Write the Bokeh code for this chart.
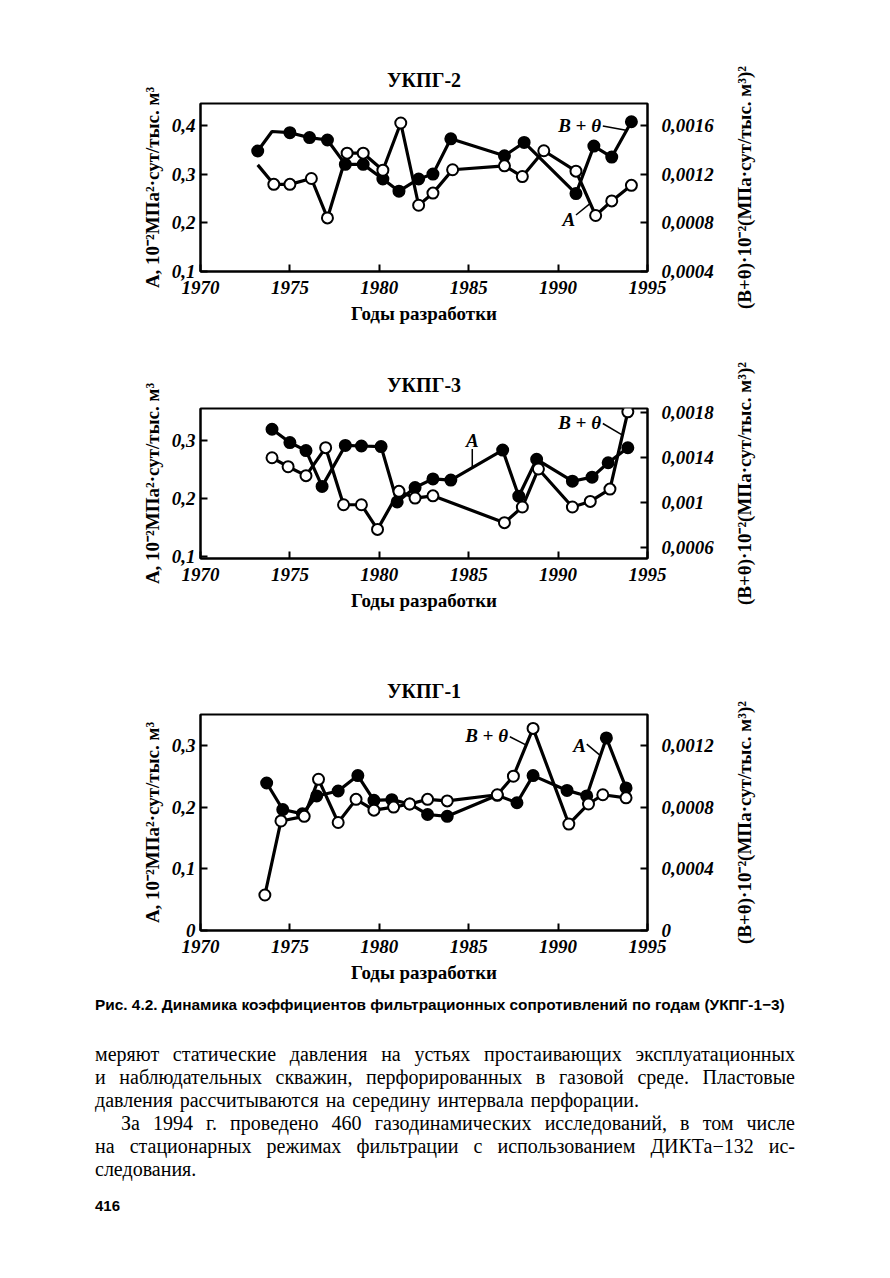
from bokeh.plotting import figure
from bokeh.models import Range1d, LinearAxis, FixedTicker, Div, Label, CustomJSTickFormatter
from bokeh.layouts import column, row
from bokeh.embed import file_html
from bokeh.resources import INLINE

# ---------------- data ----------------
year_ticks = [1970, 1975, 1980, 1985, 1990, 1995]

# УКПГ-2 : filled = B+θ (right axis), open = A (left axis)
k2_bt_years = [1973.2, 1974.0, 1975.0, 1976.1, 1977.1, 1978.1, 1979.1, 1980.2, 1981.1, 1982.2,
               1983.0, 1984.0, 1987.0, 1988.1, 1991.0, 1992.0, 1993.0, 1994.1]
k2_bt = [0.00139, 0.00155, 0.00154, 0.00150, 0.00148, 0.00128, 0.00128, 0.00116, 0.00106, 0.00116,
         0.00120, 0.00149, 0.00135, 0.00146, 0.00104, 0.00143, 0.00134, 0.00163]
k2_bt_marked = [True, False] + [True] * 16
k2_a_years = [1973.2, 1974.1, 1975.0, 1976.2, 1977.1, 1978.2, 1979.1, 1980.2, 1981.2, 1982.2,
              1983.0, 1984.1, 1987.0, 1988.0, 1989.2, 1991.0, 1992.1, 1993.0, 1994.1]
k2_a = [0.319, 0.279, 0.279, 0.291, 0.210, 0.343, 0.343, 0.308, 0.405, 0.236,
        0.261, 0.309, 0.317, 0.295, 0.348, 0.306, 0.215, 0.245, 0.277]
k2_a_marked = [False] + [True] * 18

# УКПГ-3 : filled = A (left axis), open = B+θ (right axis)
k3_a_years = [1974.0, 1975.0, 1975.9, 1976.8, 1978.1, 1979.0, 1980.1, 1981.0, 1982.0, 1983.0,
              1984.0, 1986.9, 1987.8, 1988.8, 1990.8, 1991.9, 1992.8, 1993.9]
k3_a = [0.320, 0.297, 0.283, 0.221, 0.292, 0.291, 0.290, 0.194, 0.219, 0.234,
        0.232, 0.284, 0.204, 0.268, 0.230, 0.237, 0.262, 0.288]
k3_a_marked = [True] * 18
k3_bt_years = [1974.0, 1974.9, 1975.9, 1977.0, 1978.0, 1979.0, 1979.9, 1981.1, 1982.0, 1983.0,
               1987.0, 1988.0, 1988.9, 1990.8, 1991.8, 1992.9, 1993.9]
k3_bt = [0.00140, 0.00132, 0.00124, 0.00149, 0.00098, 0.00098, 0.00076, 0.00110, 0.00104, 0.00106,
         0.00082, 0.00096, 0.00130, 0.00096, 0.00101, 0.00112, 0.00181]
k3_bt_marked = [True] * 17

# УКПГ-1 : filled = A (left axis), open = B+θ (right axis)
k1_a_years = [1973.7, 1974.6, 1975.7, 1976.5, 1977.7, 1978.8, 1979.7, 1980.7, 1981.7, 1982.7,
              1983.8, 1986.6, 1987.7, 1988.6, 1990.5, 1991.6, 1992.7, 1993.8]
k1_a = [0.239, 0.196, 0.189, 0.218, 0.226, 0.251, 0.211, 0.212, 0.205, 0.188,
        0.185, 0.219, 0.207, 0.251, 0.227, 0.218, 0.312, 0.231]
k1_a_marked = [True] * 18
k1_bt_years = [1973.6, 1974.5, 1975.8, 1976.6, 1977.7, 1978.7, 1979.7, 1980.8, 1981.7, 1982.7,
               1983.8, 1986.6, 1987.5, 1988.6, 1990.6, 1991.7, 1992.5, 1993.8]
k1_bt = [0.00023, 0.00071, 0.00074, 0.00098, 0.00070, 0.00085, 0.00078, 0.00080, 0.00082, 0.00085,
         0.00084, 0.00088, 0.00100, 0.00131, 0.00069, 0.00082, 0.00088, 0.00086]
k1_bt_marked = [True] * 18

titles = ["УКПГ-2", "УКПГ-3", "УКПГ-1"]
x_title = "Годы разработки"
left_title = "A, 10⁻²МПа²·сут/тыс. м³"
right_title = "(B+θ)·10⁻²(МПа·сут/тыс. м³)²"
left_ticks = [[0.1, 0.2, 0.3, 0.4], [0.1, 0.2, 0.3], [0.0, 0.1, 0.2, 0.3]]
right_ticks = [[0.0004, 0.0008, 0.0012, 0.0016], [0.0006, 0.001, 0.0014, 0.0018], [0.0, 0.0004, 0.0008, 0.0012]]

caption = "Рис. 4.2. Динамика коэффициентов фильтрационных сопротивлений по годам (УКПГ-1−3)"
para_lines = [
    "меряют статические давления на устьях простаивающих эксплуатационных",
    "и наблюдательных скважин, перфорированных в газовой среде. Пластовые",
    "давления рассчитываются на середину интервала перфорации.",
    "За 1994 г. проведено 460 газодинамических исследований, в том числе",
    "на стационарных режимах фильтрации с использованием ДИКТа−132 ис-",
    "следования.",
]
page_number = "416"

SERIF = "Liberation Serif"
fmt = CustomJSTickFormatter(code="""
let s = (Math.round(tick * 1e6) / 1e6).toString();
return s.replace('.', ',');
""")

FRAME_W = 447


def style_axis(ax, ticks):
    ax.ticker = FixedTicker(ticks=ticks)
    ax.formatter = fmt
    ax.axis_line_width = 2
    ax.axis_line_color = "black"
    ax.major_tick_in = 7
    ax.major_tick_out = 0
    ax.major_tick_line_width = 2
    ax.major_tick_line_color = "black"
    ax.minor_tick_line_color = None
    ax.major_label_text_font = SERIF
    ax.major_label_text_font_style = "bold italic"
    ax.major_label_text_font_size = "19px"
    ax.major_label_text_color = "black"
    ax.axis_label_text_font = SERIF
    ax.axis_label_text_font_style = "bold"
    ax.axis_label_text_color = "black"


def make_chart(title, series, left_rng, lticks, right_rng, rticks, notes, leaders,
               b_top, f_h, b_bottom):
    p = figure(frame_width=FRAME_W, frame_height=f_h, min_border_left=200, min_border_right=83,
               min_border_top=b_top, min_border_bottom=b_bottom,
               x_range=Range1d(1970, 1995), y_range=Range1d(*left_rng),
               output_backend="svg", toolbar_location=None, title=title)
    p.extra_y_ranges = {"right": Range1d(*right_rng)}
    p.title.align = "center"
    p.title.text_font = SERIF
    p.title.text_font_size = "20px"
    p.title.text_font_style = "bold"
    p.title.text_color = "black"
    p.title.standoff = 25
    p.xgrid.visible = False
    p.ygrid.visible = False
    p.outline_line_color = "black"
    p.outline_line_width = 2
    p.background_fill_color = "white"
    p.border_fill_color = "white"

    style_axis(p.xaxis[0], year_ticks)
    p.xaxis[0].axis_label = x_title
    p.xaxis[0].axis_label_text_font_size = "19px"
    p.xaxis[0].major_label_standoff = 9
    p.xaxis[0].axis_label_standoff = 6

    style_axis(p.yaxis[0], lticks)
    p.yaxis[0].axis_label = left_title
    p.yaxis[0].axis_label_text_font_size = "19px"
    p.yaxis[0].major_label_standoff = 5
    p.yaxis[0].axis_label_standoff = 6

    rax = LinearAxis(y_range_name="right")
    style_axis(rax, rticks)
    rax.major_label_standoff = 14
    p.add_layout(rax, "right")

    for xs, ys, marked, rng, filled in series:
        kw = {} if rng == "left" else {"y_range_name": "right"}
        p.line(xs, ys, line_color="black", line_width=3.2, **kw)
        mx = [x for x, m in zip(xs, marked) if m]
        my = [y for y, m in zip(ys, marked) if m]
        p.scatter(mx, my, marker="circle", size=11,
                  fill_color="black" if filled else "white",
                  line_color="black", line_width=2, **kw)

    for (x0, y0, x1, y1) in leaders:
        p.line([x0, x1], [y0, y1], line_color="black", line_width=1.5)
    for (x, y, txt, align) in notes:
        p.add_layout(Label(x=x, y=y, text=txt, text_align=align, text_baseline="middle",
                           text_font=SERIF, text_font_style="bold italic",
                           text_font_size="19px", text_color="black"))

    # side strip: its own left-axis title carries the right-hand axis title (bottom-to-top)
    s = figure(frame_width=8, frame_height=f_h, min_border_left=0, min_border_right=0,
               min_border_top=b_top, min_border_bottom=b_bottom,
               x_range=Range1d(0, 1), y_range=Range1d(*right_rng),
               x_axis_type=None, output_backend="svg", toolbar_location=None)
    s.outline_line_color = None
    s.xgrid.visible = False
    s.ygrid.visible = False
    s.background_fill_color = "white"
    s.border_fill_color = "white"
    sax = s.yaxis[0]
    sax.ticker = FixedTicker(ticks=[])
    sax.axis_line_color = None
    sax.major_tick_line_color = None
    sax.minor_tick_line_color = None
    sax.major_label_text_font_size = "0px"
    sax.axis_label = right_title
    sax.axis_label_text_font = SERIF
    sax.axis_label_text_font_style = "bold"
    sax.axis_label_text_font_size = "19px"
    sax.axis_label_text_color = "black"
    sax.axis_label_standoff = 0
    return row(p, s, spacing=0)


r1 = make_chart(titles[0],
                [(k2_bt_years, k2_bt, k2_bt_marked, "right", True),
                 (k2_a_years, k2_a, k2_a_marked, "left", False)],
                (0.1, 0.445), left_ticks[0], (0.0004, 0.00178), right_ticks[0],
                [(1992.4, 0.400, "B + θ", "right"), (1990.6, 0.207, "A", "center")],
                [(1992.5, 0.399, 1993.8, 0.390), (1991.0, 0.216, 1991.8, 0.240)],
                103, 168, 69)

r2 = make_chart(titles[1],
                [(k3_a_years, k3_a, k3_a_marked, "left", True),
                 (k3_bt_years, k3_bt, k3_bt_marked, "right", False)],
                (0.096, 0.356), left_ticks[1], (0.0005, 0.00184), right_ticks[1],
                [(1992.4, 0.331, "B + θ", "right"), (1985.2, 0.300, "A", "center")],
                [(1992.5, 0.330, 1993.6, 0.310), (1985.2, 0.286, 1985.2, 0.254)],
                68, 150, 92)

r3 = make_chart(titles[2],
                [(k1_a_years, k1_a, k1_a_marked, "left", True),
                 (k1_bt_years, k1_bt, k1_bt_marked, "right", False)],
                (0.0, 0.35), left_ticks[2], (0.0, 0.0014), right_ticks[2],
                [(1987.2, 0.316, "B + θ", "right"), (1991.2, 0.300, "A", "center")],
                [(1987.3, 0.314, 1988.25, 0.300), (1991.6, 0.302, 1992.3, 0.285)],
                64, 216, 60)

lines_html = ""
for i, ln in enumerate(para_lines):
    last = i in (2, 5)
    indent = "text-indent:26px;" if i == 3 else ""
    if last:
        lines_html += f'<div style="text-align:left;word-spacing:2px;white-space:nowrap;">{ln}</div>'
    else:
        lines_html += f'<div style="text-align:justify;text-align-last:justify;{indent}">{ln}</div>'

html = f"""
<div style="position:relative;width:874px;height:260px;color:black;">
<div style="position:absolute;left:95px;top:5px;white-space:nowrap;font-family:'Liberation Sans';
font-weight:bold;font-size:15.4px;line-height:20px;">{caption}</div>
<div style="position:absolute;left:95px;top:53px;width:700px;font-family:'Liberation Serif';
font-size:20px;line-height:23px;">{lines_html}</div>
<div style="position:absolute;left:95px;top:206px;font-family:'Liberation Sans';font-weight:bold;
font-size:15px;line-height:20px;">{page_number}</div>
</div>
"""
div = Div(text=html, width=874, height=260, margin=(0, 0, 0, 0))

layout = column(r1, r2, r3, div, spacing=0)
open("out.html", "w").write(file_html(layout, INLINE))
